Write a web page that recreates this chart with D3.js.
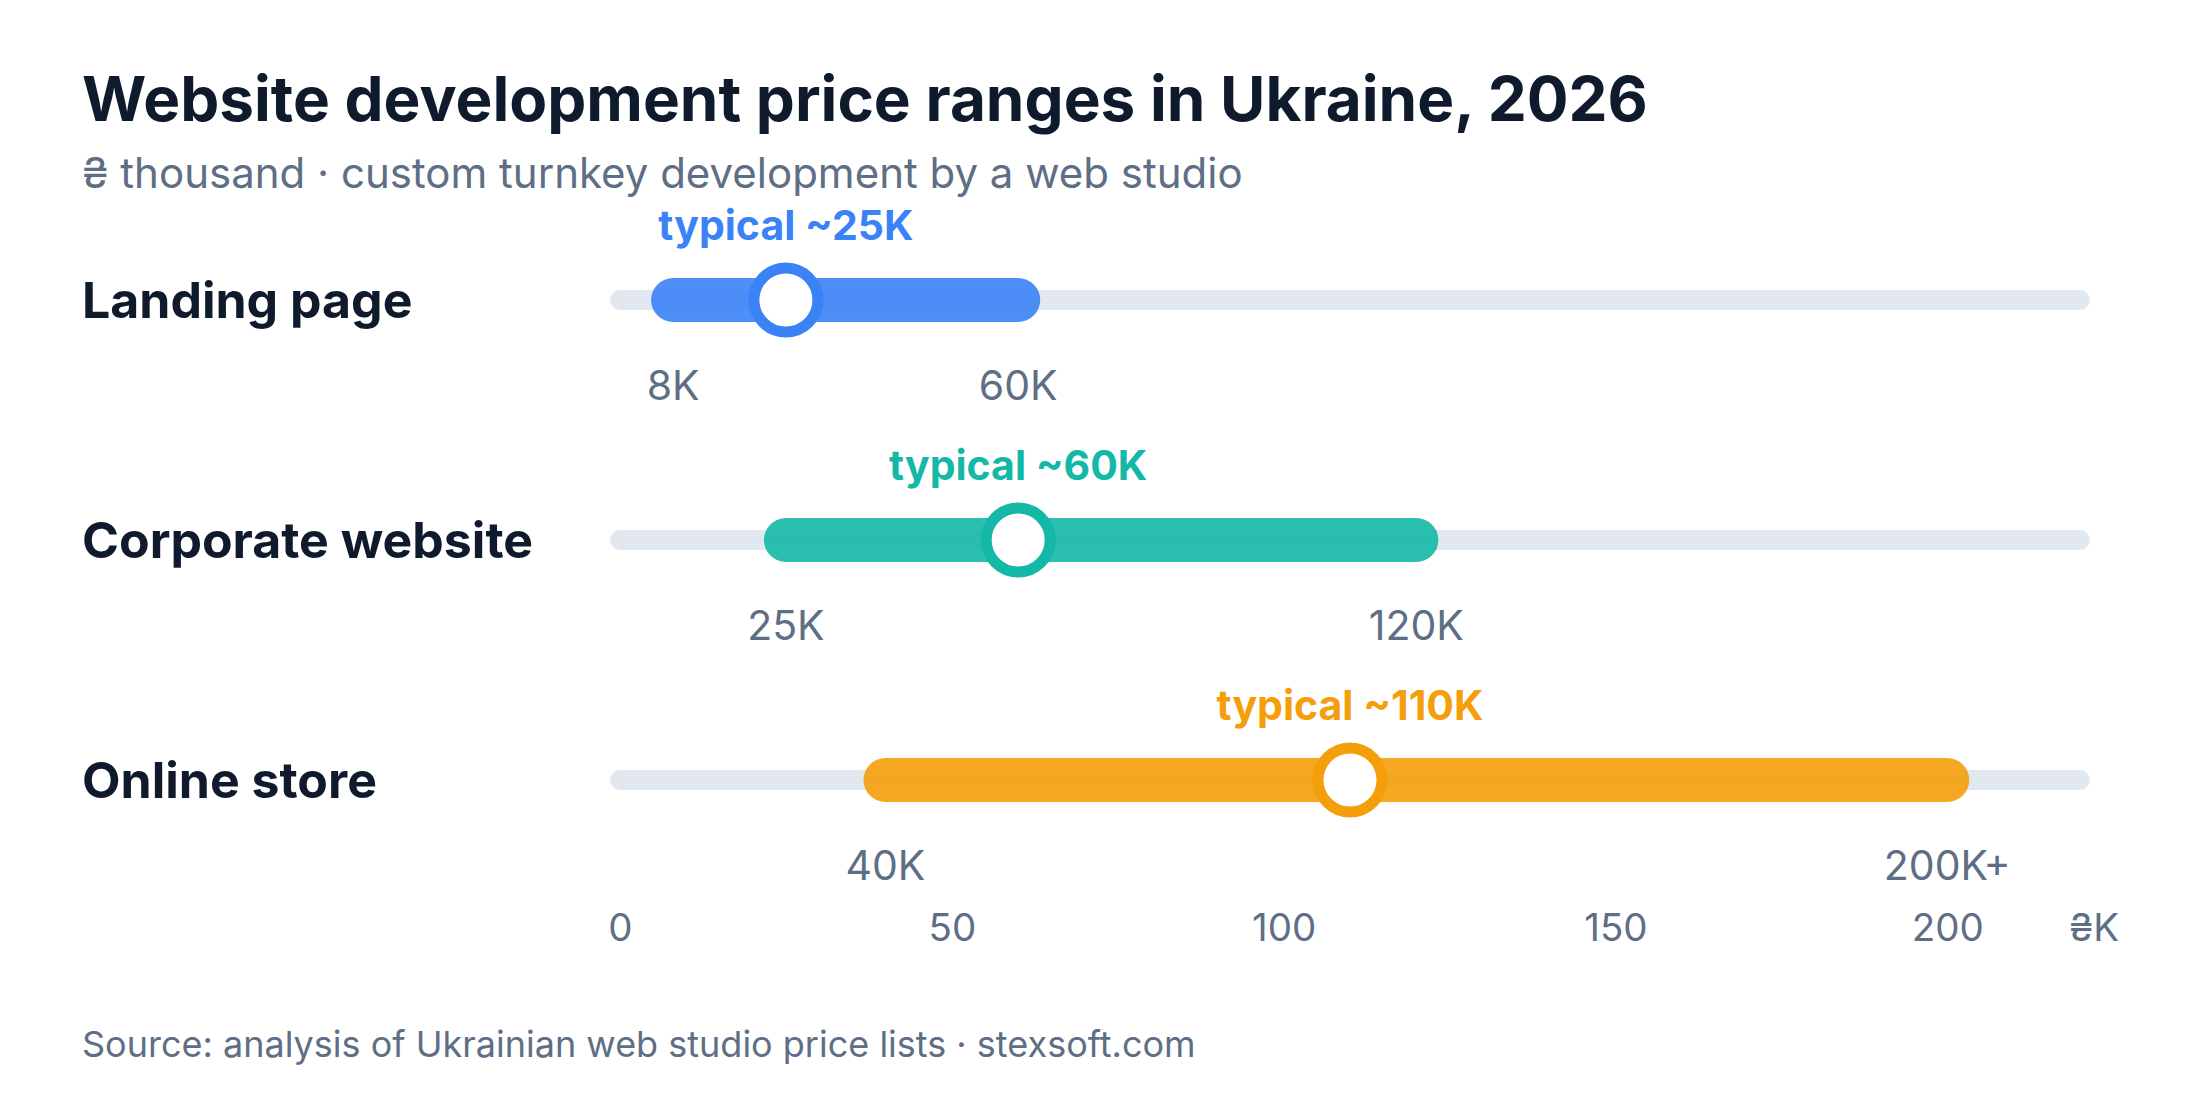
<!DOCTYPE html>
<html>
<head>
<meta charset="utf-8">
<script src="https://cdn.jsdelivr.net/npm/d3@7"></script>
<style>
  html, body { margin: 0; padding: 0; background: #ffffff; }
  svg { display: block; }
  text { font-family: Inter, "Liberation Sans", Arial, sans-serif; }
</style>
</head>
<body>
<svg id="chart" width="2200" height="1120"></svg>
<script>
// ---- data ----
const categories = ["Landing page", "Corporate website", "Online store"];
const minValues = [8, 25, 40];
const maxValues = [60, 120, 200];
const typicalValues = [25, 60, 110];
const minLabels = ["8K", "25K", "40K"];
const maxLabels = ["60K", "120K", "200K+"];
const typicalLabels = ["typical ~25K", "typical ~60K", "typical ~110K"];
const seriesColors = ["#3b82f6", "#14b8a6", "#f59e0b"];
const axisTicks = [0, 50, 100, 150, 200];
const axisTickLabels = ["0", "50", "100", "150", "200"];
const axisUnit = "₴K";
const axisDomain = [0, 220];
const titleText = "Website development price ranges in Ukraine, 2026";
const subtitleText = "₴ thousand · custom turnkey development by a web studio";
const sourceText = "Source: analysis of Ukrainian web studio price lists · stexsoft.com";

// ---- layout ----
const svg = d3.select("#chart");
const dark = "#0f1b2d";
const gray = "#5e6e84";
const trackColor = "#e2e8f0";

const x = d3.scaleLinear().domain(axisDomain).range([620, 2080]);
const y = d3.scalePoint().domain(categories).range([300, 780]);

const rows = categories.map((c, i) => ({
  cat: c, lo: minValues[i], hi: maxValues[i], typ: typicalValues[i],
  loLab: minLabels[i], hiLab: maxLabels[i], typLab: typicalLabels[i], color: seriesColors[i]
}));

// title
svg.append("text").attr("x", 82).attr("y", 121)
  .attr("font-size", 62).attr("font-weight", 700).attr("fill", dark)
  .text(titleText);
svg.append("text").attr("x", 82).attr("y", 188)
  .attr("font-size", 42).attr("fill", gray)
  .text(subtitleText);

const g = svg.selectAll("g.row").data(rows).join("g").attr("class", "row")
  .attr("transform", d => `translate(0,${y(d.cat)})`);

// category label
g.append("text").attr("x", 82).attr("y", 0).attr("dy", "0.36em")
  .attr("font-size", 50).attr("font-weight", 700).attr("fill", dark)
  .text(d => d.cat);

// track
g.append("line").attr("x1", x(axisDomain[0])).attr("x2", x(axisDomain[1]))
  .attr("stroke", trackColor).attr("stroke-width", 20).attr("stroke-linecap", "round");

// range bar
g.append("line").attr("x1", d => x(d.lo)).attr("x2", d => x(d.hi))
  .attr("stroke", d => d.color).attr("stroke-opacity", 0.9)
  .attr("stroke-width", 44).attr("stroke-linecap", "round");

// typical marker
g.append("circle").attr("cx", d => x(d.typ)).attr("cy", 0).attr("r", 32)
  .attr("fill", "#ffffff").attr("stroke", d => d.color).attr("stroke-width", 11);

// typical label
g.append("text").attr("x", d => x(d.typ)).attr("y", -60)
  .attr("text-anchor", "middle").attr("font-size", 41).attr("font-weight", 700)
  .attr("fill", d => d.color).text(d => d.typLab);

// range end labels
g.append("text").attr("x", d => x(d.lo)).attr("y", 100)
  .attr("text-anchor", "middle").attr("font-size", 41).attr("fill", gray)
  .text(d => d.loLab);
g.append("text").attr("x", d => x(d.hi)).attr("y", 100)
  .attr("text-anchor", "middle").attr("font-size", 41).attr("fill", gray)
  .text(d => d.hiLab);

// axis
const axis = d3.axisBottom(x).tickValues(axisTicks)
  .tickFormat((d, i) => axisTickLabels[i]).tickSize(0).tickPadding(0);
const ag = svg.append("g").attr("transform", "translate(0,941)").call(axis);
ag.select(".domain").remove();
ag.selectAll("text").attr("y", 0).attr("dy", 0)
  .attr("font-size", 38.5).attr("fill", gray)
  .style("font-family", 'Inter, "Liberation Sans", Arial, sans-serif');
svg.append("text").attr("x", 2094).attr("y", 941).attr("text-anchor", "middle")
  .attr("font-size", 38.5).attr("fill", gray).text(axisUnit);

// source
svg.append("text").attr("x", 82).attr("y", 1057)
  .attr("font-size", 36).attr("fill", gray).text(sourceText);
</script>
</body>
</html>
